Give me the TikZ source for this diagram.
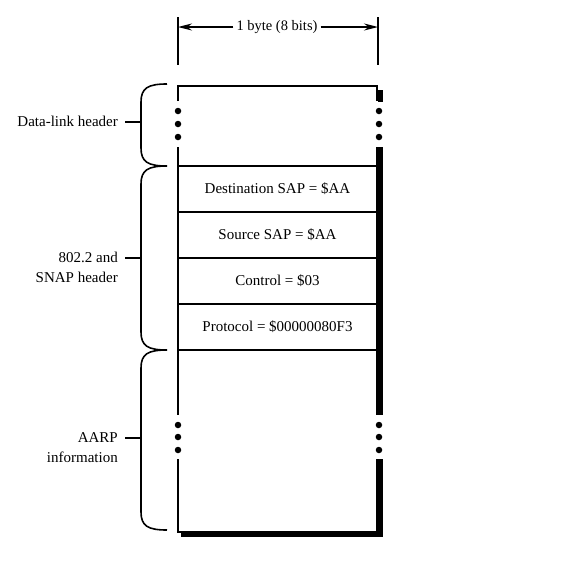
\documentclass[tikz,border=0pt]{standalone}
\usepackage{fontspec}
\setmainfont{Liberation Serif}
\usetikzlibrary{arrows.meta}
\begin{document}
\begin{tikzpicture}[x=1pt,y=-1pt,
  thin line/.style={line width=1.6pt},
  shadow/.style={line width=5pt},
  lbl/.style={font=\fontsize{15}{20}\selectfont, align=right, anchor=north east, inner sep=0pt},
  field/.style={font=\fontsize{15}{17}\selectfont, inner sep=0pt},
  bracestyle/.style={line width=1.6pt},
  dotstyle/.style={circle, fill, inner sep=0pt, minimum size=6.5pt},
  dimarrow/.style={line width=1.3pt, -{Stealth[length=14pt,width=7pt]}}
]
\useasboundingbox (0,0) rectangle (568,560);

% dimension
\coordinate (tickL0) at (178,17);
\coordinate (tickL1) at (178,65);
\coordinate (tickR0) at (378,17);
\coordinate (tickR1) at (378,65);
\coordinate (arrL) at (178,27);
\coordinate (arrR) at (378,27);
\draw[thin line] (tickL0) -- (tickL1);
\draw[thin line] (tickR0) -- (tickR1);
\node[field, font=\fontsize{14.5}{17}\selectfont, inner xsep=3pt] (bytelbl) at (277,27) {1 byte (8 bits)};
\draw[dimarrow] (bytelbl.west) -- (arrL);
\draw[dimarrow] (bytelbl.east) -- (arrR);

% box outline
\draw[thin line] (178,101) -- (178,86) -- (377,86) -- (377,101);
\draw[thin line] (178,147) -- (178,415);
\draw[thin line] (377,147) -- (377,415);
\draw[thin line] (178,459) -- (178,532) -- (377,532) -- (377,459);
% shadow
\draw[shadow] (380,90) -- (380,102);
\draw[shadow] (380,147) -- (380,415);
\draw[shadow] (380,459) -- (380,537);
\draw[line width=4.5pt] (181,535) -- (382.5,535);

% dots
\foreach \yy in {111,124,137,425,437,450}{
  \node[dotstyle] at (178,\yy) {};
  \node[dotstyle] at (379,\yy) {};
}

% rows
\foreach \yy in {166,212,258,304,350}{
  \draw[thin line] (178,\yy) -- (377,\yy);
}
\node[field] (dsap) at (277.5,189) {Destination SAP = \$AA};
\node[field] (ssap) at (277.5,235) {Source SAP = \$AA};
\node[field] (ctrl) at (277.5,281) {Control = \$03};
\node[field] (proto) at (277.5,327) {Protocol = \$00000080F3};

% braces
\newcommand{\mybrace}[3]{%
  \draw[bracestyle] (167,#1) .. controls (148,#1) and (141,#1+4) .. (141,#1+18)
    -- (141,#2-18) .. controls (141,#2-4) and (148,#2) .. (167,#2);
  \draw[bracestyle] (125,#3) -- (141,#3);
}
\mybrace{84}{166}{122}
\mybrace{166}{350}{258}
\mybrace{350}{530}{438}

\node[lbl, anchor=east] (dlh) at (118,121) {Data-link header};
\node[lbl, anchor=base east] (snap) at (118,282) {802.2 and\\SNAP header};
\node[lbl, anchor=base east] (aarp) at (118,462) {AARP\\information};
\end{tikzpicture}
\end{document}
